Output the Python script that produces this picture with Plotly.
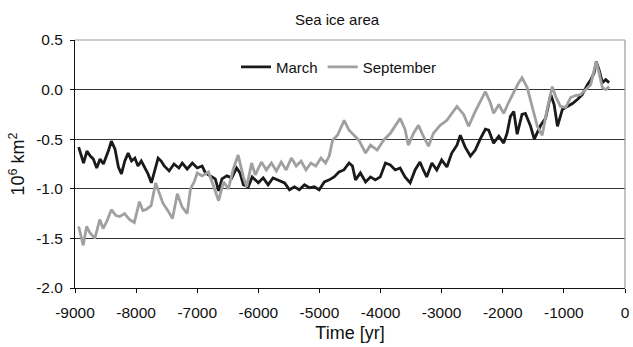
import plotly.graph_objects as go

# Values (time in years, area anomaly in 10^6 km^2)
march_t = [-8940, -8860, -8805, -8750, -8700, -8645, -8590, -8535, -8455, -8405,
           -8345, -8290, -8240, -8185, -8130, -8075, -8020, -7970, -7915, -7860,
           -7805, -7750, -7700, -7640, -7590, -7540, -7460, -7380, -7300, -7245,
           -7165, -7080, -7000, -6920, -6865, -6785, -6705, -6650, -6595, -6515,
           -6435, -6355, -6300, -6245, -6165, -6100, -6000, -5920, -5840, -5760,
           -5680, -5570, -5490, -5410, -5330, -5245, -5165, -5085, -5005, -4920,
           -4840, -4760, -4680, -4600, -4515, -4460, -4410, -4330, -4245, -4165,
           -4085, -4005, -3920, -3840, -3760, -3680, -3600, -3515, -3435, -3355,
           -3300, -3245, -3160, -3080, -3000, -2915, -2835, -2750, -2695, -2615,
           -2530, -2450, -2370, -2285, -2230, -2150, -2065, -1985, -1930, -1875,
           -1820, -1765, -1685, -1630, -1545, -1485, -1380, -1300, -1215, -1160,
           -1105, -1025, -945, -860, -780, -700, -615, -560, -505, -470,
           -425, -370, -315, -260]
march_v = [-0.58, -0.74, -0.62, -0.67, -0.70, -0.79, -0.70, -0.75, -0.62, -0.52,
           -0.60, -0.78, -0.85, -0.72, -0.64, -0.72, -0.69, -0.77, -0.72, -0.79,
           -0.85, -0.94, -0.82, -0.69, -0.72, -0.77, -0.82, -0.75, -0.79, -0.74,
           -0.80, -0.74, -0.79, -0.77, -0.84, -0.87, -0.90, -1.02, -0.90, -0.87,
           -0.89, -0.79, -0.84, -0.96, -0.98, -0.88, -0.94, -0.89, -0.96, -0.89,
           -0.91, -0.94, -1.01, -0.98, -1.01, -0.96, -0.99, -0.98, -1.01, -0.93,
           -0.91, -0.88, -0.83, -0.81, -0.74, -0.77, -0.91, -0.84, -0.93, -0.88,
           -0.91, -0.88, -0.74, -0.76, -0.81, -0.79, -0.88, -0.94, -0.81, -0.73,
           -0.81, -0.88, -0.74, -0.81, -0.71, -0.78, -0.64, -0.56, -0.46, -0.58,
           -0.67, -0.61, -0.50, -0.40, -0.41, -0.54, -0.47, -0.54, -0.44, -0.27,
           -0.22, -0.45, -0.25, -0.24, -0.37, -0.50, -0.36, -0.29, -0.05, -0.15,
           -0.37, -0.20, -0.17, -0.14, -0.10, -0.05, 0.05, 0.10, 0.17, 0.28,
           0.20, 0.07, 0.10, 0.07]

sept_t = [-8940, -8865, -8810, -8760, -8675, -8595, -8540, -8480, -8405, -8330,
          -8270, -8190, -8110, -8030, -7945, -7890, -7840, -7755, -7680, -7610,
          -7565, -7480, -7405, -7325, -7250, -7165, -7110, -7050, -7000, -6920,
          -6815, -6735, -6650, -6570, -6490, -6410, -6330, -6245, -6190, -6110,
          -6050, -5950, -5870, -5785, -5705, -5625, -5545, -5460, -5380, -5300,
          -5220, -5140, -5060, -4975, -4900, -4840, -4785, -4705, -4625, -4595,
          -4515, -4435, -4355, -4245, -4165, -4055, -3950, -3840, -3760, -3680,
          -3600, -3545, -3460, -3380, -3300, -3215, -3135, -3025, -2915, -2835,
          -2750, -2640, -2560, -2450, -2370, -2285, -2205, -2150, -2065, -1985,
          -1905, -1820, -1740, -1685, -1600, -1520, -1435, -1355, -1275, -1190,
          -1135, -1055, -970, -890, -810, -725, -645, -560, -505, -470,
          -425, -370, -315, -260]
sept_v = [-1.38, -1.57, -1.38, -1.44, -1.50, -1.31, -1.40, -1.33, -1.21, -1.27,
          -1.28, -1.25, -1.31, -1.34, -1.13, -1.22, -1.21, -1.17, -0.94, -1.07,
          -1.14, -1.22, -1.30, -1.05, -1.18, -1.25, -1.00, -0.93, -0.84, -0.87,
          -0.83, -0.97, -1.12, -0.93, -1.00, -0.80, -0.66, -0.88, -0.98, -0.74,
          -0.86, -0.73, -0.81, -0.74, -0.82, -0.73, -0.81, -0.69, -0.77, -0.72,
          -0.81, -0.74, -0.77, -0.69, -0.74, -0.67, -0.51, -0.46, -0.36, -0.31,
          -0.41, -0.46, -0.51, -0.64, -0.56, -0.61, -0.51, -0.44, -0.37, -0.29,
          -0.40, -0.56, -0.44, -0.36, -0.47, -0.57, -0.44, -0.36, -0.31, -0.24,
          -0.17, -0.25, -0.37, -0.22, -0.12, -0.02, -0.13, -0.24, -0.15, -0.24,
          -0.13, -0.02, 0.07, 0.12, 0.02, -0.17, -0.37, -0.46, -0.20, 0.03,
          -0.07, -0.17, -0.18, -0.08, -0.06, -0.05, 0.00, 0.05, 0.20, 0.28,
          0.17, 0.02, 0.00, 0.03]

x_ticks = [-9000, -8000, -7000, -6000, -5000, -4000, -3000, -2000, -1000, 0]
y_ticks = [-2.0, -1.5, -1.0, -0.5, 0.0, 0.5]

FONT = "Liberation Sans, Arial, sans-serif"

fig = go.Figure()
fig.add_trace(go.Scatter(x=march_t, y=march_v, mode="lines", name="March",
                         line=dict(color="#1a1a1a", width=2.8)))
fig.add_trace(go.Scatter(x=sept_t, y=sept_v, mode="lines", name="September",
                         line=dict(color="#a0a0a0", width=2.8)))

fig.update_layout(
    width=633, height=347,
    margin=dict(l=75, r=3, t=40, b=59),
    paper_bgcolor="white", plot_bgcolor="white",
    font=dict(family=FONT, size=15, color="#111"),
    title=dict(text="Sea ice area", x=337 / 633, xref="container", xanchor="center",
               y=1 - 20 / 347, yref="container", yanchor="middle",
               font=dict(size=15)),
    showlegend=True,
    legend=dict(orientation="h", x=0.48, xanchor="center", y=0.891, yanchor="middle",
                bgcolor="rgba(255,255,255,1)", font=dict(size=15),
                itemwidth=30, tracegroupgap=0),
    xaxis=dict(range=[-9000, 0], tickvals=x_ticks, ticktext=[str(v) for v in x_ticks],
               showgrid=False, zeroline=False, showline=True, linecolor="#111",
               linewidth=1, ticks="outside", ticklen=4, tickcolor="#111",
               ticklabelstandoff=6, ticklabeloverflow="allow",
               title=dict(text="Time [yr]", standoff=6), tickfont=dict(size=15.5)),
    yaxis=dict(range=[-2.0, 0.5], tickvals=y_ticks,
               ticktext=[f"{v:.1f}" for v in y_ticks],
               showgrid=True, gridcolor="#333", gridwidth=1, zeroline=False,
               showline=True, linecolor="#111", linewidth=1, ticks="outside",
               ticklen=4, tickcolor="#111", ticklabelstandoff=4,
               title=dict(text="10<sup>6</sup> km<sup>2</sup>", standoff=6),
               tickfont=dict(size=15.5)),
)

# light grey frame at top and right, as in the reference
fig.add_shape(type="line", xref="paper", yref="paper", x0=0, x1=1, y0=1, y1=1,
              line=dict(color="#9a9a9a", width=1.2))
fig.add_shape(type="line", xref="paper", yref="paper", x0=1, x1=1, y0=0, y1=1,
              line=dict(color="#9a9a9a", width=1.2))

fig.write_html("out.html")
